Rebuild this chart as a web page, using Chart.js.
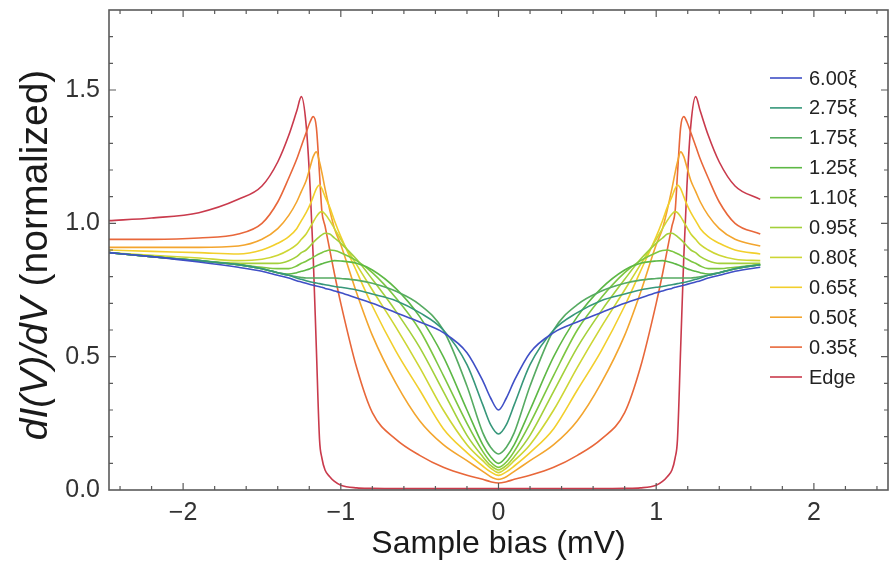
<!DOCTYPE html>
<html>
<head>
<meta charset="utf-8">
<script src="https://cdn.jsdelivr.net/npm/chart.js@4"></script>
<style>
  html, body { margin: 0; padding: 0; background: #fff; }
  #wrap { width: 893px; height: 567px; }
</style>
</head>
<body>
<div id="wrap"><canvas id="myChart" width="893" height="567"></canvas></div>
<script>
// sample bias (mV), shared by all curves
const biasMv = [-2.47, -2.2, -1.9, -1.65, -1.5, -1.4, -1.33, -1.28, -1.25, -1.22, -1.195, -1.175, -1.155, -1.135, -1.12, -1.1, -1.07, -1.04, -1.0, -0.9, -0.8, -0.65, -0.5, -0.35, -0.2, -0.1, -0.05, 0,
  0.05, 0.1, 0.2, 0.35, 0.5, 0.65, 0.8, 0.9, 1.0, 1.04, 1.07, 1.1, 1.12, 1.135, 1.155, 1.175, 1.195, 1.22, 1.25, 1.28, 1.33, 1.4, 1.5, 1.66];

const r600 = [0.89, 0.875, 0.855, 0.835, 0.82, 0.805, 0.795, 0.785, 0.78, 0.775, 0.771, 0.768, 0.765, 0.762, 0.76, 0.756, 0.752, 0.746, 0.74, 0.72, 0.70, 0.665, 0.63, 0.59, 0.515, 0.41, 0.345, 0.30,
  0.345, 0.41, 0.515, 0.59, 0.63, 0.665, 0.70, 0.72, 0.74, 0.746, 0.752, 0.756, 0.76, 0.762, 0.765, 0.768, 0.771, 0.775, 0.78, 0.785, 0.795, 0.805, 0.82, 0.835];
const r275 = [0.89, 0.875, 0.86, 0.845, 0.83, 0.815, 0.805, 0.795, 0.79, 0.785, 0.781, 0.778, 0.776, 0.774, 0.772, 0.77, 0.767, 0.763, 0.76, 0.75, 0.735, 0.71, 0.665, 0.60, 0.47, 0.32, 0.245, 0.21,
  0.245, 0.32, 0.47, 0.60, 0.665, 0.71, 0.735, 0.75, 0.76, 0.763, 0.767, 0.77, 0.772, 0.774, 0.776, 0.778, 0.781, 0.785, 0.79, 0.795, 0.805, 0.815, 0.83, 0.845];
const r175 = [0.89, 0.875, 0.86, 0.845, 0.83, 0.815, 0.805, 0.80, 0.797, 0.795, 0.795, 0.795, 0.795, 0.795, 0.795, 0.795, 0.795, 0.795, 0.793, 0.787, 0.775, 0.745, 0.695, 0.60, 0.39, 0.215, 0.16, 0.135,
  0.16, 0.215, 0.39, 0.60, 0.695, 0.745, 0.775, 0.787, 0.793, 0.795, 0.795, 0.795, 0.795, 0.795, 0.795, 0.795, 0.795, 0.795, 0.797, 0.80, 0.805, 0.815, 0.83, 0.845];
const r125 = [0.89, 0.875, 0.86, 0.845, 0.83, 0.815, 0.81, 0.815, 0.82, 0.825, 0.83, 0.835, 0.84, 0.845, 0.848, 0.852, 0.857, 0.86, 0.859, 0.85, 0.825, 0.755, 0.65, 0.50, 0.30, 0.17, 0.125, 0.10,
  0.125, 0.17, 0.30, 0.50, 0.65, 0.755, 0.825, 0.85, 0.859, 0.86, 0.857, 0.852, 0.848, 0.845, 0.84, 0.835, 0.83, 0.825, 0.82, 0.815, 0.81, 0.815, 0.83, 0.845];
const r110 = [0.89, 0.875, 0.86, 0.845, 0.835, 0.83, 0.83, 0.84, 0.85, 0.858, 0.866, 0.873, 0.88, 0.886, 0.89, 0.895, 0.90, 0.898, 0.89, 0.86, 0.815, 0.72, 0.60, 0.43, 0.25, 0.145, 0.105, 0.085,
  0.105, 0.145, 0.25, 0.43, 0.60, 0.72, 0.815, 0.86, 0.89, 0.898, 0.90, 0.895, 0.89, 0.886, 0.88, 0.873, 0.866, 0.858, 0.85, 0.84, 0.83, 0.83, 0.835, 0.845];
const r095 = [0.89, 0.875, 0.86, 0.85, 0.85, 0.85, 0.86, 0.875, 0.89, 0.90, 0.915, 0.928, 0.94, 0.95, 0.957, 0.963, 0.96, 0.945, 0.925, 0.865, 0.79, 0.67, 0.535, 0.37, 0.205, 0.125, 0.092, 0.075,
  0.092, 0.125, 0.205, 0.37, 0.535, 0.67, 0.79, 0.865, 0.925, 0.945, 0.96, 0.963, 0.957, 0.95, 0.94, 0.928, 0.915, 0.90, 0.89, 0.875, 0.86, 0.85, 0.85, 0.85];
const r080 = [0.89, 0.88, 0.87, 0.86, 0.865, 0.88, 0.90, 0.92, 0.94, 0.96, 0.985, 1.005, 1.025, 1.04, 1.044, 1.035, 1.01, 0.98, 0.94, 0.845, 0.75, 0.61, 0.46, 0.30, 0.17, 0.11, 0.082, 0.065,
  0.082, 0.11, 0.17, 0.30, 0.46, 0.61, 0.75, 0.845, 0.94, 0.98, 1.01, 1.035, 1.044, 1.04, 1.025, 1.005, 0.985, 0.96, 0.94, 0.92, 0.90, 0.88, 0.865, 0.86];
const r065 = [0.90, 0.895, 0.89, 0.885, 0.90, 0.925, 0.95, 0.98, 1.01, 1.04, 1.07, 1.10, 1.13, 1.144, 1.13, 1.10, 1.06, 1.01, 0.95, 0.82, 0.69, 0.52, 0.375, 0.23, 0.14, 0.09, 0.068, 0.055,
  0.068, 0.09, 0.14, 0.23, 0.375, 0.52, 0.69, 0.82, 0.95, 1.01, 1.06, 1.10, 1.13, 1.144, 1.13, 1.10, 1.07, 1.04, 1.01, 0.98, 0.95, 0.925, 0.90, 0.885];
const r050 = [0.91, 0.91, 0.91, 0.915, 0.94, 0.98, 1.03, 1.08, 1.12, 1.16, 1.21, 1.25, 1.268, 1.23, 1.19, 1.13, 1.05, 0.98, 0.92, 0.74, 0.58, 0.40, 0.26, 0.17, 0.11, 0.07, 0.05, 0.04,
  0.05, 0.07, 0.11, 0.17, 0.26, 0.40, 0.58, 0.74, 0.92, 0.98, 1.05, 1.13, 1.19, 1.23, 1.268, 1.25, 1.21, 1.16, 1.12, 1.08, 1.03, 0.98, 0.94, 0.915];
const r035 = [0.94, 0.94, 0.945, 0.96, 1.0, 1.08, 1.17, 1.24, 1.29, 1.34, 1.38, 1.40, 1.36, 1.185, 1.045, 0.99, 0.90, 0.81, 0.70, 0.46, 0.29, 0.19, 0.13, 0.085, 0.055, 0.04, 0.031, 0.026,
  0.031, 0.04, 0.055, 0.085, 0.13, 0.19, 0.29, 0.46, 0.70, 0.81, 0.90, 0.99, 1.045, 1.185, 1.36, 1.40, 1.38, 1.34, 1.29, 1.24, 1.17, 1.08, 1.0, 0.96];
const rEdge = [1.01, 1.02, 1.04, 1.09, 1.14, 1.23, 1.33, 1.42, 1.475, 1.37, 1.14, 0.875, 0.53, 0.19, 0.12, 0.075, 0.05, 0.032, 0.018, 0.008, 0.006, 0.005, 0.005, 0.005, 0.005, 0.005, 0.005, 0.005,
  0.005, 0.005, 0.005, 0.005, 0.005, 0.005, 0.006, 0.008, 0.018, 0.032, 0.05, 0.075, 0.12, 0.19, 0.53, 0.875, 1.14, 1.37, 1.475, 1.42, 1.33, 1.23, 1.14, 1.09];

const seriesNames = ["6.00ξ", "2.75ξ", "1.75ξ", "1.25ξ", "1.10ξ", "0.95ξ", "0.80ξ", "0.65ξ", "0.50ξ", "0.35ξ", "Edge"];
const seriesValues = [r600, r275, r175, r125, r110, r095, r080, r065, r050, r035, rEdge];
const seriesColors = ["#3f4fc6", "#36977a", "#56ab62", "#5db845", "#7cc640", "#a3d03a", "#cdd634", "#f2cf2c", "#f3a52e", "#e8673a", "#c93a4c"];

const xTicks = [-2, -1, 0, 1, 2];
const xTickLabels = ["\u22122", "\u22121", "0", "1", "2"];
const yTicks = [0, 0.5, 1.0, 1.5];
const yTickLabels = ["0.0", "0.5", "1.0", "1.5"];

const FONT = "'Liberation Sans', Arial, sans-serif";

const datasets = seriesNames.map((name, i) => ({
  label: name,
  data: biasMv.map((x, j) => ({ x: x, y: seriesValues[i][j] })),
  borderColor: seriesColors[i],
  borderWidth: 1.6,
  pointRadius: 0,
  fill: false,
  cubicInterpolationMode: "monotone",
}));

// frame, inward ticks, y title and legend
const decorPlugin = {
  id: "decor",
  afterDraw(chart) {
    const ctx = chart.ctx;
    const a = chart.chartArea;
    const xs = chart.scales.x;
    const ys = chart.scales.y;
    ctx.save();
    ctx.strokeStyle = "#5a5a5a";
    ctx.lineWidth = 1.6;
    ctx.strokeRect(a.left, a.top, a.right - a.left, a.bottom - a.top);

    ctx.lineWidth = 1.2;
    ctx.beginPath();
    for (let v = -2.4; v <= 2.41; v += 0.2) {
      const px = xs.getPixelForValue(v);
      const major = Math.abs(v - Math.round(v)) < 1e-6;
      const len = major ? 7 : 4;
      ctx.moveTo(px, a.bottom); ctx.lineTo(px, a.bottom - len);
      ctx.moveTo(px, a.top); ctx.lineTo(px, a.top + len);
    }
    for (let v = 0.1; v <= 1.75; v += 0.1) {
      const py = ys.getPixelForValue(v);
      const major = Math.abs(v * 2 - Math.round(v * 2)) < 1e-6;
      const len = major ? 7 : 4;
      ctx.moveTo(a.left, py); ctx.lineTo(a.left + len, py);
      ctx.moveTo(a.right, py); ctx.lineTo(a.right - len, py);
    }
    ctx.stroke();

    // y axis title: italic dI(V)/dV + upright (normalized)
    const p1 = "dI(V)/dV";
    const p2 = " (normalized)";
    const fs = 39;
    ctx.fillStyle = "#1a1a1a";
    ctx.translate(36, 255);
    ctx.rotate(-Math.PI / 2);
    ctx.font = "italic " + fs + "px " + FONT;
    const w1 = ctx.measureText(p1).width;
    ctx.font = fs + "px " + FONT;
    const w2 = ctx.measureText(p2).width;
    ctx.textBaseline = "middle";
    ctx.textAlign = "left";
    ctx.font = "italic " + fs + "px " + FONT;
    ctx.fillText(p1, -(w1 + w2) / 2, 0);
    ctx.font = fs + "px " + FONT;
    ctx.fillText(p2, -(w1 + w2) / 2 + w1, 0);
    ctx.restore();

    // legend
    ctx.save();
    ctx.font = "20px " + FONT;
    ctx.textBaseline = "middle";
    ctx.textAlign = "left";
    chart.data.datasets.forEach((ds, i) => {
      const y = 78 + i * 29.9;
      ctx.strokeStyle = ds.borderColor;
      ctx.lineWidth = 1.6;
      ctx.beginPath();
      ctx.moveTo(770, y); ctx.lineTo(802, y);
      ctx.stroke();
      ctx.fillStyle = "#222";
      ctx.fillText(ds.label, 809, y + 1);
    });
    ctx.restore();
  },
};

new Chart(document.getElementById("myChart"), {
  type: "line",
  data: { datasets: datasets },
  options: {
    responsive: false,
    animation: false,
    layout: { padding: { left: 0, right: 5, top: 10, bottom: 0 } },
    plugins: { legend: { display: false }, tooltip: { enabled: false } },
    scales: {
      x: {
        type: "linear",
        min: -2.47,
        max: 2.47,
        afterBuildTicks: (s) => { s.ticks = xTicks.map((v) => ({ value: v })); },
        afterFit: (s) => { s.height = 77; s.paddingLeft = 0; s.paddingRight = 0; },
        grid: { display: false, drawTicks: false },
        border: { display: false },
        ticks: {
          padding: 8,
          color: "#333",
          font: { family: FONT, size: 25 },
          callback: (v) => xTickLabels[xTicks.indexOf(v)],
        },
        title: {
          display: true,
          text: "Sample bias (mV)",
          color: "#1a1a1a",
          font: { family: FONT, size: 32 },
          padding: { top: 0, bottom: 4 },
        },
      },
      y: {
        type: "linear",
        min: 0,
        max: 1.8,
        afterBuildTicks: (s) => { s.ticks = yTicks.map((v) => ({ value: v })); },
        afterFit: (s) => { s.width = 109; s.paddingTop = 0; s.paddingBottom = 0; },
        grid: { display: false, drawTicks: false },
        border: { display: false },
        ticks: {
          padding: 9,
          color: "#333",
          font: { family: FONT, size: 25 },
          callback: (v) => yTickLabels[yTicks.indexOf(v)],
        },
      },
    },
  },
  plugins: [decorPlugin],
});
</script>
</body>
</html>
